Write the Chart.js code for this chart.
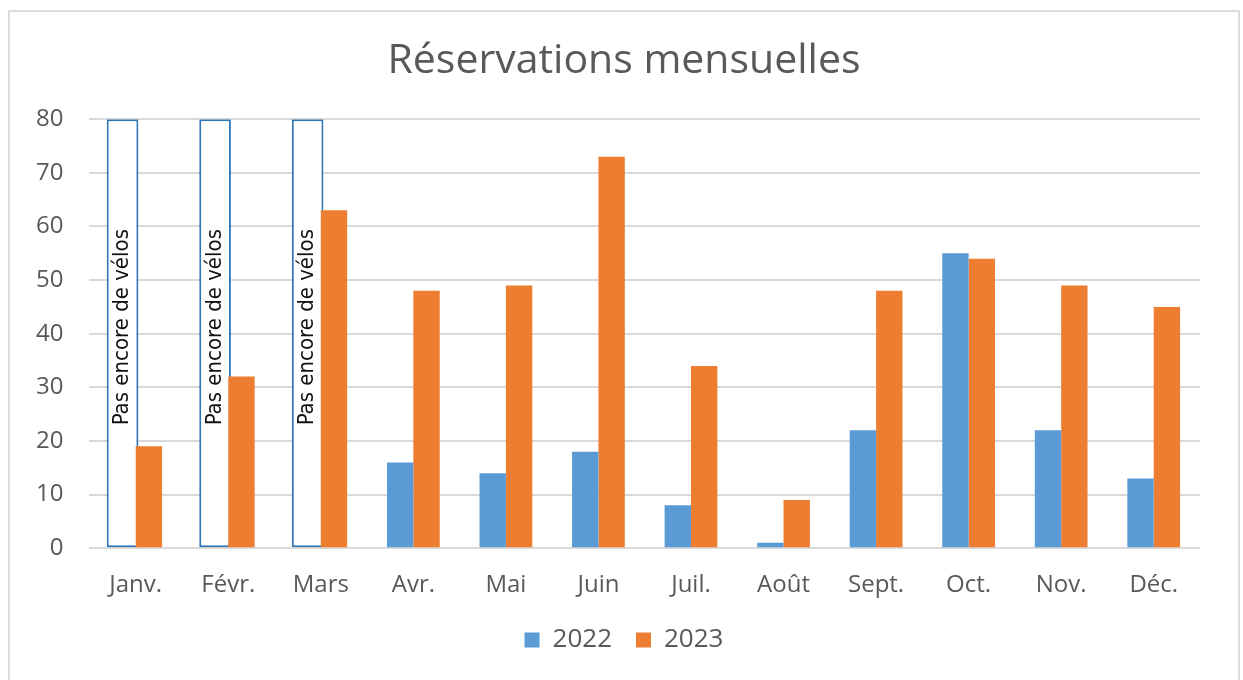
<!DOCTYPE html>
<html lang="fr">
<head>
<meta charset="utf-8">
<title>Réservations mensuelles</title>
<script src="https://cdn.jsdelivr.net/npm/chart.js@4"></script>
<style>
    html, body { margin: 0; padding: 0; background: #fff; }
    .frame {
        position: absolute;
        left: 8px;
        top: 10px;
        width: 1228px;
        height: 680px;
        border: 2px solid #dcdcdc;
        border-bottom: none;
    }
    canvas { display: block; }
</style>
</head>
<body>
<div class="frame"><canvas id="chart" width="1228" height="670"></canvas></div>
<script>
(() => {
    'use strict';

    const months = ['Janv.', 'Févr.', 'Mars', 'Avr.', 'Mai', 'Juin', 'Juil.', 'Août', 'Sept.', 'Oct.', 'Nov.', 'Déc.'];
    const bookings2022 = [null, null, null, 16, 14, 18, 8, 1, 22, 55, 22, 13];
    const bookings2023 = [19, 32, 63, 48, 49, 73, 34, 9, 48, 54, 49, 45];
    const noBikes = [80, 80, 80, null, null, null, null, null, null, null, null, null];
    const noBikesLabel = 'Pas encore de vélos';

    const blue = '#5b9bd5';
    const orange = '#ed7d31';
    const grey = '#595959';
    const uiFont = "'Open Sans', 'Noto Sans', sans-serif";

    // vertical caption inside the "no bikes yet" boxes
    const noBikesText = {
        id: 'noBikesText',
        afterDatasetsDraw(chart) {
            const meta = chart.getDatasetMeta(2);
            const { ctx } = chart;
            ctx.save();
            ctx.fillStyle = '#111';
            ctx.font = "22px 'Liberation Sans Narrow', 'DejaVu Sans Condensed', sans-serif";
            ctx.textAlign = 'center';
            ctx.textBaseline = 'middle';
            meta.data.forEach((bar, index) => {
                if (noBikes[index] === null) return;
                ctx.save();
                ctx.translate(bar.x, (bar.y + bar.base) / 2 - 6);
                ctx.rotate(-Math.PI / 2);
                ctx.fillText(noBikesLabel, 0, 0);
                ctx.restore();
            });
            ctx.restore();
        },
    };

    new Chart(document.getElementById('chart'), {
        type: 'bar',
        data: {
            labels: months,
            datasets: [
                {
                    label: '2022',
                    data: bookings2022,
                    backgroundColor: blue,
                    stack: 'a',
                },
                {
                    label: '2023',
                    data: bookings2023,
                    backgroundColor: orange,
                    stack: 'b',
                },
                {
                    label: noBikesLabel,
                    data: noBikes,
                    backgroundColor: '#fff',
                    borderColor: '#2e75b6',
                    borderWidth: 2,
                    borderSkipped: false,
                    barPercentage: 1.2,
                    stack: 'a',
                },
            ],
        },
        options: {
            responsive: false,
            animation: false,
            categoryPercentage: 0.57,
            barPercentage: 1,
            layout: { padding: { left: 0, right: 0, top: 0, bottom: 19 } },
            plugins: {
                title: {
                    display: true,
                    text: 'Réservations mensuelles',
                    color: grey,
                    font: { family: uiFont, size: 41, weight: 'normal' },
                    padding: { top: 25, bottom: 33 },
                },
                legend: {
                    position: 'bottom',
                    labels: {
                        color: grey,
                        font: { family: uiFont, size: 26 },
                        boxWidth: 15,
                        boxHeight: 15,
                        padding: 24,
                        filter: (item) => item.datasetIndex < 2,
                    },
                },
                tooltip: { enabled: false },
            },
            scales: {
                x: {
                    stacked: true,
                    grid: { display: false },
                    border: { display: false },
                    ticks: {
                        color: grey,
                        font: { family: uiFont, size: 24 },
                        padding: 15,
                    },
                    afterFit: (scale) => { scale.height -= 12; },
                },
                y: {
                    stacked: true,
                    min: 0,
                    max: 80,
                    grid: { color: '#d9d9d9', lineWidth: 2, drawTicks: false },
                    border: { display: false },
                    ticks: {
                        stepSize: 10,
                        color: grey,
                        font: { family: uiFont, size: 24 },
                        padding: 26,
                    },
                },
                // empty right margin, keeps title and legend centred on the frame
                margin: {
                    type: 'linear',
                    position: 'right',
                    grid: { display: false },
                    border: { display: false },
                    ticks: { display: false },
                    afterFit: (scale) => { scale.width = 38; },
                },
            },
        },
        plugins: [noBikesText],
    });
})();
</script>
</body>
</html>
